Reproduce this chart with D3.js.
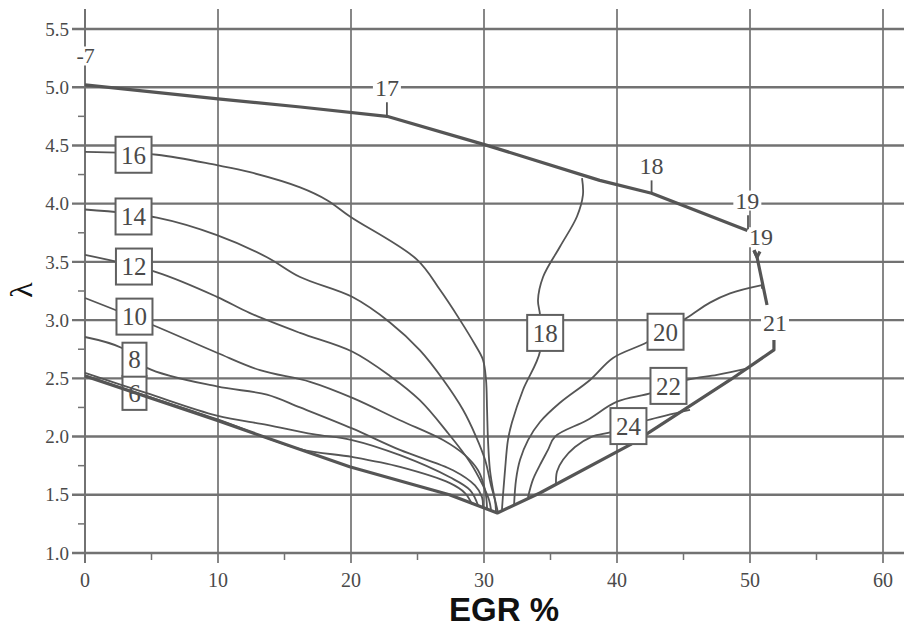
<!DOCTYPE html>
<meta charset="utf-8"/>
<html>
  <head>
    <script src="https://d3js.org/d3.v7.min.js"></script>
    <style>
      body { margin: 0; background: #fff; }
    </style>
  </head>
  <body>
<script type="text/javascript">
var width = 904;
var height = 628;
var serif = "Liberation Serif";

// axis values
var egrTicks = [0, 10, 20, 30, 40, 50, 60];
var egrMinor = [5, 15, 25, 35, 45, 55];
var lambdaTicks = [1.0, 1.5, 2.0, 2.5, 3.0, 3.5, 4.0, 4.5, 5.0, 5.5];
var lambdaMinor = [1.25, 1.75, 2.25, 2.75, 3.25, 3.75, 4.25, 4.75, 5.25];

// outer limit lines, [EGR %, lambda]
var limitTop = [[0, 5.02], [10, 4.90], [16.2, 4.83], [22.7, 4.75], [30.1, 4.505], [38.7, 4.20], [42.6, 4.09], [49.8, 3.77]];
var limitBottom = [[0, 2.52], [9.9, 2.14], [19.9, 1.74], [27.4, 1.50], [31.0, 1.344], [34.2, 1.515], [41.0, 1.93], [48.5, 2.486], [51.8, 2.744], [51.8, 2.83]];
var limitRight = [[50.3, 3.60], [50.53, 3.54], [51.28, 3.13]];
var limitRightV = [[50.3, 3.60], [50.53, 3.54], [50.75, 3.59]];

// contour lines
var c6a = [[0, 2.546], [4.59, 2.375], [9.92, 2.18], [13.68, 2.10], [17.14, 2.02], [20.08, 1.97], [23.68, 1.84], [27.44, 1.65], [28.95, 1.54], [29.55, 1.41]];
var c6b = [[0, 2.525], [4.6, 2.35], [9.92, 2.15], [16.17, 1.893], [20.08, 1.825], [23.68, 1.74], [27.44, 1.60], [28.57, 1.515], [29.1, 1.42]];
var c8 = [[0, 2.855], [2.78, 2.76], [4.66, 2.59], [9.92, 2.43], [13.68, 2.36], [16.17, 2.25], [20.08, 2.07], [23.68, 1.885], [27.67, 1.71], [29.32, 1.58], [29.85, 1.48], [29.92, 1.385]];
var c10 = [[0, 3.19], [5.04, 2.96], [9.92, 2.72], [13.16, 2.57], [16.92, 2.47], [20.15, 2.33], [23.68, 2.14], [26.92, 1.97], [28.57, 1.84], [29.55, 1.71], [30.08, 1.54], [30.23, 1.385]];
var c12 = [[0, 3.56], [5.41, 3.41], [9.92, 3.20], [12.41, 3.06], [16.17, 2.89], [20.08, 2.73], [22.93, 2.52], [25.19, 2.31], [27.22, 2.04], [28.95, 1.78], [29.92, 1.58], [30.38, 1.455], [30.53, 1.37]];
var c14 = [[0, 3.95], [5.41, 3.88], [9.92, 3.73], [13.68, 3.54], [16.17, 3.37], [20.08, 3.20], [22.93, 2.98], [25.19, 2.74], [26.92, 2.49], [28.42, 2.23], [29.4, 2.0], [30.08, 1.80], [30.53, 1.58], [30.83, 1.45], [30.9, 1.36]];
var c16 = [[0, 4.445], [5.41, 4.42], [9.92, 4.33], [12.41, 4.27], [16.17, 4.14], [18.2, 4.03], [19.92, 3.89], [24.96, 3.52], [26.69, 3.26], [28.2, 3.0], [29.32, 2.79], [29.92, 2.66], [30.15, 2.49], [30.23, 2.23], [30.3, 1.97], [30.45, 1.71], [30.75, 1.50], [31.05, 1.35]];
var c18 = [[37.37, 4.22], [37.44, 4.075], [36.99, 3.89], [35.71, 3.63], [34.44, 3.37], [34.06, 3.17], [34.21, 3.045], [34.21, 2.73], [32.93, 2.40], [32.1, 2.12], [31.8, 1.97], [31.58, 1.71], [31.43, 1.50], [31.35, 1.37]];
var c20 = [[50.9, 3.30], [48.5, 3.23], [46.99, 3.15], [45.26, 3.02], [42.26, 2.81], [39.7, 2.675], [37.97, 2.486], [35.71, 2.29], [34.21, 2.125], [33.31, 1.97], [32.71, 1.80], [32.41, 1.63], [32.26, 1.41]];
var c22 = [[50, 2.59], [47.52, 2.53], [45.26, 2.486], [42.63, 2.375], [40, 2.30], [37.74, 2.14], [35.34, 2.0], [34.81, 1.885], [34.21, 1.756], [33.68, 1.63], [33.31, 1.48]];
var c24 = [[45.49, 2.23], [42.26, 2.14], [39.62, 2.04], [38.12, 2.0], [36.84, 1.91], [35.94, 1.80], [35.49, 1.70], [35.41, 1.59]];

// little leader marks
var marks = [
  [[22.7, 4.87], [22.7, 4.75]],
  [[42.6, 4.20], [42.6, 4.10]],
  [[49.85, 3.90], [49.85, 3.78]],
  [[50.9, 3.33], [50.9, 3.27]]
];

// boxed labels
var boxText = ['16', '14', '12', '10', '8', '18', '20', '22', '24'];
var boxX = [3.65, 3.65, 3.68, 3.72, 3.72, 34.6, 43.65, 43.87, 40.86];
var boxY = [4.42, 3.89, 3.46, 3.03, 2.66, 2.89, 2.90, 2.435, 2.09];
// the "6" box sits under the lines
var box6 = {text: '6', x: 3.72, y: 2.375};

// free labels
var tagText = ['17', '18', '19', '19', '21', '-7'];
var tagX = [22.7, 42.6, 49.8, 50.83, 51.88, 0.05];
var tagY = [5.0, 4.33, 4.03, 3.715, 2.976, 5.27];

var x = d3.scaleLinear().domain([0, 60]).range([85, 883]);
var y = d3.scaleLinear().domain([1, 5.5]).range([553, 29]);

var svg = d3.select('body').append('svg')
    .attr('width', width)
    .attr('height', height)
    .attr('font-family', serif)
    .style('background', '#fff');

var gridColor = '#727272';
var inkColor = '#555555';

// grid
svg.append('g')
    .selectAll('line')
    .data(lambdaTicks)
    .enter()
    .append('line')
    .attr('x1', 72)
    .attr('x2', width)
    .attr('y1', function(d) { return y(d); })
    .attr('y2', function(d) { return y(d); })
    .attr('stroke', gridColor)
    .attr('stroke-width', 2.4);

svg.append('g')
    .selectAll('line')
    .data(egrTicks)
    .enter()
    .append('line')
    .attr('x1', function(d) { return x(d); })
    .attr('x2', function(d) { return x(d); })
    .attr('y1', 9)
    .attr('y2', 563)
    .attr('stroke', gridColor)
    .attr('stroke-width', function(d) { return d == 0 ? 2 : 1.7; });

// minor ticks
svg.append('g')
    .selectAll('line')
    .data(lambdaMinor)
    .enter()
    .append('line')
    .attr('x1', x(0) - 7)
    .attr('x2', x(0))
    .attr('y1', function(d) { return y(d); })
    .attr('y2', function(d) { return y(d); })
    .attr('stroke', gridColor)
    .attr('stroke-width', 1.5);

svg.append('g')
    .selectAll('line')
    .data(egrMinor)
    .enter()
    .append('line')
    .attr('x1', function(d) { return x(d); })
    .attr('x2', function(d) { return x(d); })
    .attr('y1', y(1))
    .attr('y2', y(1) + 7)
    .attr('stroke', gridColor)
    .attr('stroke-width', 1.5);

// tick labels
svg.append('g')
    .selectAll('text')
    .data(lambdaTicks)
    .enter()
    .append('text')
    .attr('x', 69)
    .attr('y', function(d) { return y(d); })
    .attr('dy', '0.35em')
    .attr('text-anchor', 'end')
    .attr('font-size', 19)
    .attr('fill', '#4a4a4a')
    .text(d3.format('.1f'));

svg.append('g')
    .selectAll('text')
    .data(egrTicks)
    .enter()
    .append('text')
    .attr('x', function(d) { return x(d); })
    .attr('y', 580)
    .attr('dy', '0.35em')
    .attr('text-anchor', 'middle')
    .attr('font-size', 20)
    .attr('fill', '#4a4a4a')
    .text(function(d) { return d; });

// axis titles
svg.append('text')
    .attr('transform', 'translate(21,290) rotate(-90)')
    .attr('text-anchor', 'middle')
    .attr('dy', '0.35em')
    .attr('font-size', 32)
    .attr('fill', '#111')
    .text('λ');

svg.append('text')
    .attr('x', 504)
    .attr('y', 621)
    .attr('text-anchor', 'middle')
    .attr('font-size', 33)
    .attr('font-weight', 'bold')
    .attr('fill', '#111')
    .attr('font-family', 'Liberation Sans')
    .text('EGR %');

// free labels with white ground over the grid
var tags = svg.append('g');
tagText.forEach(function(t, i) {
  var g = tags.append('g');
  var txt = g.append('text')
      .attr('x', x(tagX[i]))
      .attr('y', y(tagY[i]))
      .attr('dy', '0.35em')
      .attr('text-anchor', 'middle')
      .attr('font-size', t == '-7' ? 22 : 24)
      .attr('fill', '#4a4a4a')
      .text(t);
  var bb = txt.node().getBBox();
  g.insert('rect', 'text')
      .attr('x', bb.x - 2)
      .attr('y', bb.y + 3)
      .attr('width', bb.width + 4)
      .attr('height', bb.height - 6)
      .attr('fill', '#fff');
});

function drawBox(parent, t, bx, by) {
  var w = t.length > 1 ? 36 : 24;
  var h = t.length > 1 ? 36 : 34;
  var g = parent.append('g');
  g.append('rect')
      .attr('x', x(bx) - w / 2)
      .attr('y', y(by) - h / 2)
      .attr('width', w)
      .attr('height', h)
      .attr('fill', '#fff')
      .attr('stroke', '#606060')
      .attr('stroke-width', 2);
  g.append('text')
      .attr('x', x(bx))
      .attr('y', y(by))
      .attr('dy', '0.35em')
      .attr('text-anchor', 'middle')
      .attr('font-size', 25)
      .attr('fill', '#4a4a4a')
      .text(t);
}

drawBox(svg, box6.text, box6.x, box6.y);

var smooth = d3.line()
    .x(function(d) { return x(d[0]); })
    .y(function(d) { return y(d[1]); })
    .curve(d3.curveCatmullRom.alpha(0.5));
var straight = d3.line()
    .x(function(d) { return x(d[0]); })
    .y(function(d) { return y(d[1]); });

var contours = [c6a, c6b, c8, c10, c12, c14, c16, c18, c20, c22, c24];
svg.append('g')
    .selectAll('path')
    .data(contours)
    .enter()
    .append('path')
    .attr('d', smooth)
    .attr('fill', 'none')
    .attr('stroke', inkColor)
    .attr('stroke-width', 1.8)
    .attr('stroke-linejoin', 'round');

svg.append('g')
    .selectAll('path')
    .data(marks)
    .enter()
    .append('path')
    .attr('d', straight)
    .attr('fill', 'none')
    .attr('stroke', inkColor)
    .attr('stroke-width', 1.8);

svg.append('g')
    .selectAll('path')
    .data([limitTop, limitBottom, limitRight, limitRightV])
    .enter()
    .append('path')
    .attr('d', straight)
    .attr('fill', 'none')
    .attr('stroke', inkColor)
    .attr('stroke-width', 3.2)
    .attr('stroke-linejoin', 'round');

// boxed labels on top of their lines
var boxes = svg.append('g');
boxText.forEach(function(t, i) {
  drawBox(boxes, t, boxX[i], boxY[i]);
});
</script>
  </body>
</html>
